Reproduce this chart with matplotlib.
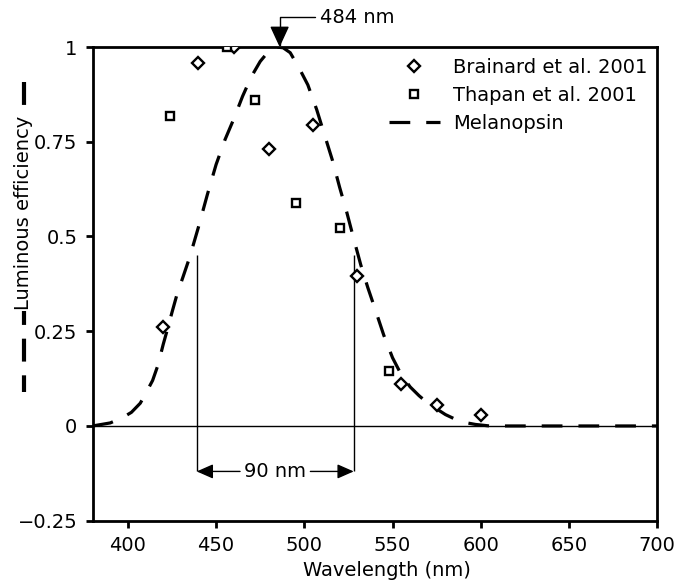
import numpy as np
import matplotlib
matplotlib.use("Agg")
import matplotlib.pyplot as plt
from matplotlib.lines import Line2D

# Brainard et al. 2001 (diamonds)
brainard_nm = [420, 440, 460, 480, 505, 530, 555, 575, 600]
brainard_eff = [0.26, 0.957, 1.0, 0.73, 0.795, 0.397, 0.112, 0.055, 0.029]

# Thapan et al. 2001 (squares)
thapan_nm = [424, 456, 472, 495, 520, 548]
thapan_eff = [0.817, 1.0, 0.86, 0.589, 0.522, 0.144]

# melanopsin curve
mel_nm = [380, 390, 397, 402, 407, 410, 414, 417, 420, 423, 425, 428, 431, 435,
          440, 445, 450, 455, 460, 465, 470, 475, 480, 484, 488, 492, 497, 502,
          507, 512, 516, 520, 524, 528, 532, 536, 540, 545, 550, 555, 560, 565,
          570, 575, 580, 585, 590, 597, 605, 650, 700]
mel_eff = [0.0, 0.008, 0.022, 0.036, 0.06, 0.085, 0.12, 0.16, 0.215, 0.265, 0.30,
           0.35, 0.39, 0.445, 0.525, 0.61, 0.69, 0.755, 0.81, 0.87, 0.922, 0.962,
           0.99, 1.0, 0.998, 0.985, 0.945, 0.9, 0.835, 0.76, 0.7, 0.63, 0.565,
           0.494, 0.425, 0.365, 0.31, 0.24, 0.18, 0.135, 0.103, 0.08, 0.06, 0.045,
           0.03, 0.019, 0.01, 0.004, 0.0, 0.0, 0.0]

peak_nm = 486
half_lo, half_hi = 439, 528
marker_top = 0.45
span_y = -0.12

plt.rcParams['font.family'] = 'DejaVu Sans'
plt.rcParams['font.size'] = 14

fig = plt.figure(figsize=(6.81, 5.84), dpi=100)
ax = fig.add_axes([0.136, 0.1084, 0.829, 0.8111])

dash = (0, (6.5, 5))
ax.plot(brainard_nm, brainard_eff, ls='none', marker='D', ms=6, mfc='white',
        mec='black', mew=1.7, label='Brainard et al. 2001', zorder=3)
ax.plot(thapan_nm, thapan_eff, ls='none', marker='s', ms=6, mfc='white',
        mec='black', mew=1.7, label='Thapan et al. 2001', zorder=3)
ax.plot(mel_nm, mel_eff, color='black', lw=2.3, ls=dash, label='Melanopsin', zorder=2)

ax.axhline(0, color='black', lw=1)
ax.vlines([half_lo, half_hi], span_y, marker_top, color='black', lw=1)

# 90 nm width marker
hw = dict(arrowstyle='-|>,head_length=0.5,head_width=0.22', color='black', lw=1,
          shrinkA=1, shrinkB=0, mutation_scale=20)
mid = (half_lo + half_hi) / 2
ax.annotate('90 nm', xy=(half_lo, span_y), xytext=(mid, span_y), ha='center',
            va='center', arrowprops=hw)
ax.annotate('90 nm', xy=(half_hi, span_y), xytext=(mid, span_y), ha='center',
            va='center', color='none', arrowprops=hw)

# peak marker
ax.annotate('484 nm', xy=(peak_nm, 1.0), xytext=(509, 1.078), ha='left', va='center',
            annotation_clip=False,
            arrowprops=dict(arrowstyle='-|>,head_length=0.65,head_width=0.3',
                            color='black', lw=1, shrinkA=2, shrinkB=0,
                            mutation_scale=20, relpos=(0, 0.5),
                            connectionstyle='angle,angleA=0,angleB=90,rad=0'))

ax.set_xlim(380, 700)
ax.set_ylim(-0.25, 1)
ax.set_xticks([400, 450, 500, 550, 600, 650, 700])
ax.set_yticks([-0.25, 0, 0.25, 0.5, 0.75, 1])
ax.set_yticklabels(['\u22120.25', '0', '0.25', '0.5', '0.75', '1'])
for s in ax.spines.values():
    s.set_linewidth(2)
ax.tick_params(direction='out', length=5, width=2, labelsize=14, pad=6)

ax.set_xlabel('Wavelength (nm)', fontsize=14)
ax.xaxis.set_label_coords(0.522, -0.085)

# y label sitting on a dashed line
fig.add_artist(Line2D([0.035, 0.035], [1 - 82 / 584, 1 - 392 / 584], color='black',
                      lw=3, ls=(0, (5.5, 3.3))))
fig.text(0.035, 1 - 213 / 584, 'Luminous efficiency', rotation=90, ha='center',
         va='center', fontsize=14,
         bbox=dict(facecolor='white', edgecolor='none', pad=1))

ax.legend(loc='upper right', bbox_to_anchor=(0.99, 0.985), frameon=False,
          fontsize=14, handlelength=2.6, handletextpad=0.7, labelspacing=0.45,
          borderaxespad=0, borderpad=0.2, markerfirst=True)

fig.savefig('out.png', dpi=100)
